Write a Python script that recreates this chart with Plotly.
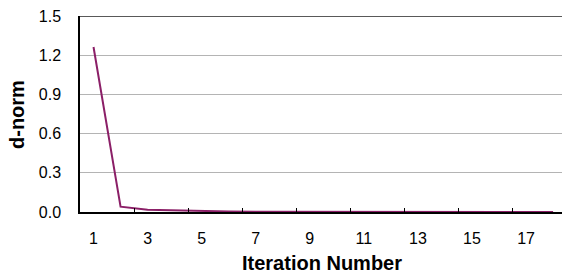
import plotly.graph_objects as go

iterations = list(range(1, 19))
d_norm = [1.263, 0.041, 0.017, 0.011, 0.008, 0.004, 0.002, 0.0015, 0.001,
          0.0008, 0.0006, 0.0005, 0.0004, 0.0003, 0.0002, 0.0002, 0.0001, 0.0001]
x_tick_vals = [1, 3, 5, 7, 9, 11, 13, 15, 17]
x_tick_text = [str(v) for v in x_tick_vals]
x_minor_ticks = [2.5, 4.5, 6.5, 8.5, 10.5, 12.5, 14.5, 16.5]
y_tick_vals = [0.0, 0.3, 0.6, 0.9, 1.2, 1.5]
y_tick_text = ["0.0", "0.3", "0.6", "0.9", "1.2", "1.5"]

fig = go.Figure()
fig.add_trace(go.Scatter(
    x=iterations, y=d_norm, mode="lines",
    line=dict(color="#8B1F67", width=2),
    showlegend=False, hoverinfo="skip",
))

fig.add_shape(type="line", xref="paper", yref="y", x0=0, x1=1, y0=1.5, y1=1.5,
              line=dict(color="#222222", width=1.5), layer="above")

fig.add_annotation(text="<b>Iteration Number</b>", xref="paper", yref="paper",
                   x=(322 - 80) / 482, y=-(262.5 - 212) / 196, xanchor="center", yanchor="middle",
                   showarrow=False, font=dict(size=20))
fig.add_annotation(text="<b>d-norm</b>", xref="paper", yref="paper",
                   x=-(80 - 17) / 482, y=0.5, xanchor="center", yanchor="middle",
                   textangle=-90, showarrow=False, font=dict(size=20))

fig.update_layout(
    width=562, height=275,
    margin=dict(l=80, r=0, t=16, b=63, autoexpand=False),
    paper_bgcolor="white", plot_bgcolor="white",
    font=dict(family="Liberation Sans, Arial, sans-serif", color="black", size=16),
    xaxis=dict(
        range=[0.5, 18.33], automargin=False,
        tickmode="array", tickvals=x_tick_vals, ticktext=x_tick_text,
        ticks="", showgrid=False, zeroline=False,
        showline=True, linecolor="black", linewidth=1.5,
        ticklabelstandoff=11,
        tickfont=dict(size=16),
        minor=dict(tickmode="array", tickvals=x_minor_ticks, ticks="inside",
                   ticklen=4, tickcolor="black", tickwidth=1, showgrid=False),
    ),
    yaxis=dict(
        range=[0, 1.5], automargin=False,
        tickmode="array", tickvals=y_tick_vals, ticktext=y_tick_text,
        ticks="", showgrid=True, gridcolor="#b4b4b4", gridwidth=1,
        zeroline=False, showline=True, linecolor="black", linewidth=1.5,
        ticklabelstandoff=14,
        tickfont=dict(size=16),
    ),
)

fig.write_html("out.html", config={"displayModeBar": False},
               post_script="document.body.style.margin='0';document.body.style.overflow='hidden';")
